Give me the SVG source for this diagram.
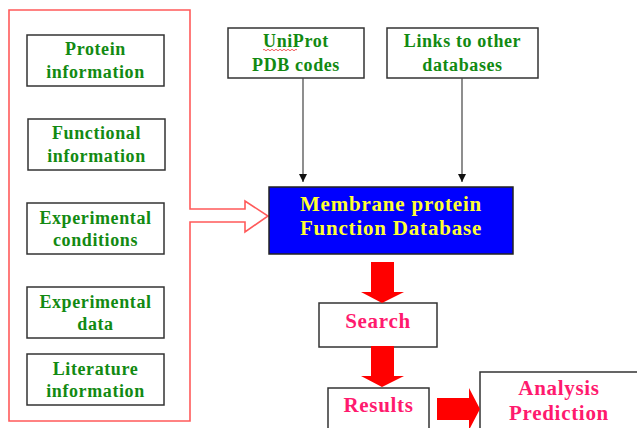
<svg xmlns="http://www.w3.org/2000/svg" width="637" height="428" viewBox="0 0 637 428">
<defs>
<style>
.box{fill:#fff;stroke:#333;stroke-width:1.5}
.g{font-family:"Liberation Serif","Times New Roman",serif;font-weight:bold;font-size:18px;letter-spacing:0.6px;fill:#128a12;text-anchor:middle}
.p{font-family:"Liberation Serif","Times New Roman",serif;font-weight:bold;font-size:21px;letter-spacing:0.7px;fill:#ff1a6e;text-anchor:middle}
.y{font-family:"Liberation Serif","Times New Roman",serif;font-weight:bold;font-size:21px;letter-spacing:0.8px;fill:#ffff33;text-anchor:middle}
.blk{fill:#ff0000}
</style>
<marker id="ah" viewBox="0 0 10 10" refX="10" refY="5" markerWidth="8" markerHeight="9" markerUnits="userSpaceOnUse" orient="auto">
<path d="M0,0 L10,5 L0,10 Z" fill="#111"/>
</marker>
</defs>
<rect width="637" height="428" fill="#fff"/>

<g id="group-outline">
<path d="M190,209 L190,10 L9,10 L9,421 L190,421 L190,222 L245,222 L245,232 L268,216 L245,201 L245,209 Z" fill="none" stroke="#ff5a5a" stroke-width="1.6"/>
</g>

<g id="protein-info">
<rect class="box" x="27" y="35" width="137" height="51"/>
<text class="g" x="95.5" y="55">Protein</text>
<text class="g" x="95.5" y="78">information</text>
</g>
<g id="functional-info">
<rect class="box" x="28" y="119" width="137" height="51"/>
<text class="g" x="96.5" y="139">Functional</text>
<text class="g" x="96.5" y="162">information</text>
</g>
<g id="exp-conditions">
<rect class="box" x="27" y="203" width="137" height="51"/>
<text class="g" x="95.5" y="224">Experimental</text>
<text class="g" x="95.5" y="246">conditions</text>
</g>
<g id="exp-data">
<rect class="box" x="27" y="287" width="137" height="51"/>
<text class="g" x="95.5" y="308">Experimental</text>
<text class="g" x="95.5" y="330">data</text>
</g>
<g id="literature-info">
<rect class="box" x="27" y="354" width="137" height="51"/>
<text class="g" x="95.5" y="375">Literature</text>
<text class="g" x="95.5" y="397">information</text>
</g>

<g id="uniprot">
<rect class="box" x="228" y="28" width="136" height="50"/>
<text class="g" x="296" y="47">UniProt</text>
<path d="M263,50 q1,-1.5 2,0 t2,0 t2,0 t2,0 t2,0 t2,0 t2,0 t2,0 t2,0 t2,0 t2,0 t2,0 t2,0 t2,0 t2,0 t2,0 t2,0" fill="none" stroke="#e33" stroke-width="0.8"/>
<text class="g" x="296" y="71">PDB codes</text>
</g>
<g id="links">
<rect class="box" x="387" y="28" width="151" height="50"/>
<text class="g" x="462.5" y="47">Links to other</text>
<text class="g" x="462.5" y="71">databases</text>
</g>

<g id="mpfd">
<rect x="269" y="187" width="244" height="67" fill="#0000ff" stroke="#222" stroke-width="1.5"/>
<text class="y" x="391" y="211">Membrane protein</text>
<text class="y" x="391" y="235">Function Database</text>
</g>

<g id="search">
<rect class="box" x="319" y="303" width="118" height="44"/>
<text class="p" x="378" y="328">Search</text>
</g>
<g id="results">
<rect class="box" x="328" y="388" width="101" height="50"/>
<text class="p" x="378.5" y="412">Results</text>
</g>
<g id="analysis">
<rect class="box" x="480" y="372" width="170" height="70"/>
<text class="p" x="559" y="395">Analysis</text>
<text class="p" x="559" y="420">Prediction</text>
</g>

<g id="connectors">
<line x1="303" y1="78" x2="303" y2="182" stroke="#444" stroke-width="1.2" marker-end="url(#ah)"/>
<line x1="462" y1="78" x2="462" y2="182" stroke="#444" stroke-width="1.2" marker-end="url(#ah)"/>
<path class="blk" d="M371,262 L394,262 L394,292 L404,292 L382,303 L361,292 L371,292 Z"/>
<path class="blk" d="M371,346 L394,346 L394,376 L404,376 L382,387 L361,376 L371,376 Z"/>
<path class="blk" d="M437,398 L469,398 L469,388 L480,409 L469,430 L469,420 L437,420 Z"/>
</g>
</svg>
